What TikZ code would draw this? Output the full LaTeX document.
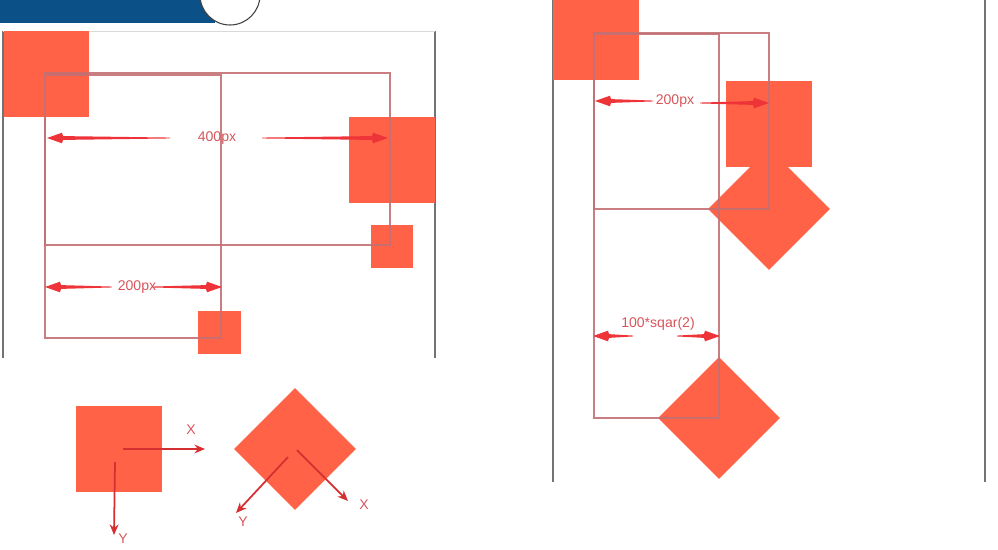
\documentclass[tikz,border=0pt]{standalone}
\usepackage{fontspec}
\setmainfont{Liberation Sans}
\usetikzlibrary{arrows.meta,positioning,calc}

\definecolor{sqfill}{RGB}{255,98,70}
\definecolor{boxline}{RGB}{196,112,116}
\definecolor{dimred}{RGB}{238,52,56}
\definecolor{labelred}{RGB}{214,86,92}
\definecolor{banner}{RGB}{12,80,136}
\definecolor{frameline}{RGB}{115,115,115}

\tikzset{
  blk/.style={fill=sqfill, draw=none, minimum size=1.72cm, inner sep=0pt, outer sep=0pt},
  blksmall/.style={blk, minimum size=0.86cm},
  box/.style={draw=boxline, line width=0.6pt, draw opacity=0.9},
  axis/.style={draw=dimred!90!black, line width=1pt, -{Stealth[length=6pt,width=5pt]}},
  lbl/.style={text=labelred, font=\fontsize{8}{9.6}\selectfont, inner sep=1pt}
}

% tapered dimension arrow, thin at #1 and with its tip at #2
\newcommand\dimarrow[2]{%
  \coordinate (dN) at ($(#2)!8.5pt!(#1)$);
  \fill[dimred] ($(#1)!0.25pt!90:(#2)$) -- ($(dN)!1.1pt!90:(#2)$)
    -- ($(#2)!9.5pt!(#1)$) -- ($(dN)!3pt!90:(#2)$) -- (#2)
    -- ($(dN)!3pt!-90:(#2)$) -- ($(#2)!9.5pt!(#1)$)
    -- ($(dN)!1.1pt!-90:(#2)$) -- ($(#1)!0.25pt!-90:(#2)$) -- cycle;
}

\begin{document}
\begin{tikzpicture}[x=0.02cm,y=-0.02cm]
    \useasboundingbox (0,0) rectangle (998,549);
    \clip (0,0) rectangle (998,549);
    \fill[white] (0,0) rectangle (998,549);

    % title banner
    \fill[banner] (0,0) rectangle (215,23);
    \draw[fill=white, draw=black!75, line width=0.6pt] (230,-5) circle[radius=0.6cm];

    % left panel
    \draw[frameline, line width=0.8pt] (3,31) -- (3,358);
    \draw[frameline, line width=0.8pt] (435,31) -- (435,358);
    \draw[black!15] (3,31) -- (435,31);

    \node[blk] (tl) at (46.5,74) {};
    \node[blk] (mr) at (392,160) {};
    \node[blksmall] (br) at (392,246.5) {};
    \node[blksmall] (bm) at (219.5,332.5) {};

    \draw[box] (45,73) rectangle (390,245);
    \draw[box] (45,75) rectangle (221,338);

    \node[lbl] (w400) at (217,138) {400px};
    \coordinate (w400l) at (170,138);
    \coordinate (w400le) at (47,138);
    \coordinate (w400r) at (262,138);
    \coordinate (w400re) at (388,138);
    \dimarrow{w400l}{w400le}
    \dimarrow{w400r}{w400re}

    \node[lbl] (w200) at (137,287) {200px};
    \coordinate (w200l) at (112,287);
    \coordinate (w200le) at (45,287);
    \coordinate (w200r) at (152,287);
    \coordinate (w200re) at (222,287);
    \dimarrow{w200l}{w200le}
    \dimarrow{w200r}{w200re}

    % right panel
    \draw[frameline, line width=0.8pt] (553,0) -- (553,482);
    \draw[frameline, line width=0.8pt] (985,0) -- (985,482);

    \node[blk] (rtl) at (596,37) {};
    \node[blk] (rsq) at (769,124) {};
    \node[blk, rotate=45] (rdia) at (769,209) {};
    \node[blk, rotate=45] (rdib) at (719,418) {};

    \draw[box] (594,34) rectangle (719,418);
    \draw[box] (594,33) rectangle (769,209);

    \node[lbl] (r200) at (675,101) {200px};
    \coordinate (r200l) at (653,101);
    \coordinate (r200le) at (595,101);
    \coordinate (r200r) at (700,103);
    \coordinate (r200re) at (769,103);
    \dimarrow{r200l}{r200le}
    \dimarrow{r200r}{r200re}

    \node[lbl] (rsqrt) at (658,324) {100*sqar(2)};
    \coordinate (rsql) at (633,336);
    \coordinate (rsqle) at (593,336);
    \coordinate (rsqr) at (677,336);
    \coordinate (rsqre) at (720,336);
    \dimarrow{rsql}{rsqle}
    \dimarrow{rsqr}{rsqre}

    % axes of a square, before and after rotation
    \node[blk] (sqA) at (119,449) {};
    \coordinate (ax0) at (123,449);
    \coordinate (axX) at (205,449);
    \coordinate (ay0) at (115,462);
    \coordinate (ayY) at (114,535);
    \draw[axis] (ax0) -- (axX);
    \draw[axis] (ay0) -- (ayY);
    \node[lbl] (lx) at (191,430) {X};
    \node[lbl] (ly) at (123,539) {Y};

    \node[blk, rotate=45] (sqB) at (295,449) {};
    \coordinate (bx0) at (297,450);
    \coordinate (bxX) at (348,501);
    \coordinate (by0) at (288,457);
    \coordinate (byY) at (236,513);
    \draw[axis] (bx0) -- (bxX);
    \draw[axis] (by0) -- (byY);
    \node[lbl] (bx) at (364,505) {X};
    \node[lbl] (by) at (243,522) {Y};
\end{tikzpicture}
\end{document}
